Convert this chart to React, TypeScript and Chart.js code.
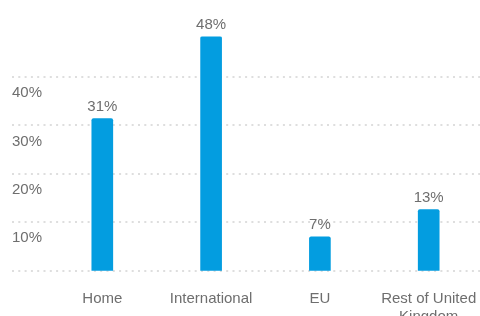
import React, { useEffect, useRef } from "react";
import { Chart, registerables } from "chart.js";

Chart.register(...registerables);

const categories: (string | string[])[] = ["Home", "International", "EU", ["Rest of United", "Kingdom"]];
const shares: number[] = [31.4, 48.4, 7.0, 12.6];
const shareLabels: string[] = ["31%", "48%", "7%", "13%"];
const gridValues: number[] = [0, 10, 20, 30, 40];

const FONT = "'Liberation Sans', Arial, sans-serif";
const TEXT = "#6e6e6e";
const BAR = "#039de0";
const CANVAS_W = 490;
const CANVAS_H = 340;

export default function App() {
  const ref = useRef<HTMLCanvasElement | null>(null);

  useEffect(() => {
    if (!ref.current) return;

    const dottedGrid = {
      id: "dottedGrid",
      beforeDatasetsDraw(chart: any) {
        const { ctx } = chart;
        const y = chart.scales.y;
        ctx.save();
        ctx.strokeStyle = "#dedede";
        ctx.lineWidth = 2;
        ctx.setLineDash([2, 4.3]);
        gridValues.forEach((v) => {
          const py = Math.round(y.getPixelForValue(v));
          ctx.beginPath();
          ctx.moveTo(12, py);
          ctx.lineTo(chart.width, py);
          ctx.stroke();
        });
        ctx.restore();
      },
    };

    const valueLabels = {
      id: "valueLabels",
      afterDatasetsDraw(chart: any) {
        const { ctx } = chart;
        const meta = chart.getDatasetMeta(0);
        ctx.save();
        ctx.font = `15px ${FONT}`;
        ctx.fillStyle = TEXT;
        ctx.textAlign = "center";
        ctx.textBaseline = "middle";
        meta.data.forEach((bar: any, i: number) => {
          ctx.fillText(shareLabels[i], bar.x, bar.y - 12);
        });
        ctx.restore();
      },
    };

    const chart = new Chart(ref.current, {
      type: "bar",
      data: {
        labels: categories,
        datasets: [
          {
            data: shares,
            backgroundColor: BAR,
            borderWidth: 0,
            barThickness: 21,
            borderRadius: { topLeft: 2, topRight: 2, bottomLeft: 0, bottomRight: 0 },
            borderSkipped: false,
          },
        ],
      },
      options: {
        responsive: false,
        animation: false,
        layout: { padding: { left: 12, right: 6.9, top: 36.4, bottom: 0 } },
        plugins: {
          legend: { display: false },
          tooltip: { enabled: false },
        },
        scales: {
          x: {
            grid: { display: false },
            border: { display: false },
            ticks: {
              color: TEXT,
              font: { family: FONT, size: 15, lineHeight: 1.15 },
              padding: 12,
              maxRotation: 0,
              autoSkip: false,
            },
            afterFit(scale: any) {
              scale.height = CANVAS_H - 270.7;
              scale.paddingLeft = 0;
              scale.paddingRight = 0;
            },
          },
          y: {
            min: 0,
            max: 48.4,
            grid: { display: false, drawTicks: false },
            border: { display: false },
            ticks: {
              stepSize: 10,
              color: TEXT,
              font: { family: FONT, size: 15 },
              crossAlign: "far",
              labelOffset: 16,
              padding: 0,
              callback: (v: any) => {
                const n = Number(v);
                if (n === 0 || Math.abs(n % 10) > 0.001) return "";
                return n + "%";
              },
            },
            afterFit(scale: any) {
              scale.width = 35.9;
              scale.paddingTop = 0;
              scale.paddingBottom = 0;
            },
          },
        },
      },
      plugins: [dottedGrid, valueLabels],
    });

    return () => chart.destroy();
  }, []);

  return (
    <div
      style={{
        position: "fixed",
        left: 0,
        top: 0,
        width: 480,
        height: 316,
        overflow: "hidden",
        background: "#fff",
      }}
    >
      <canvas ref={ref} width={CANVAS_W} height={CANVAS_H} style={{ display: "block" }} />
    </div>
  );
}
